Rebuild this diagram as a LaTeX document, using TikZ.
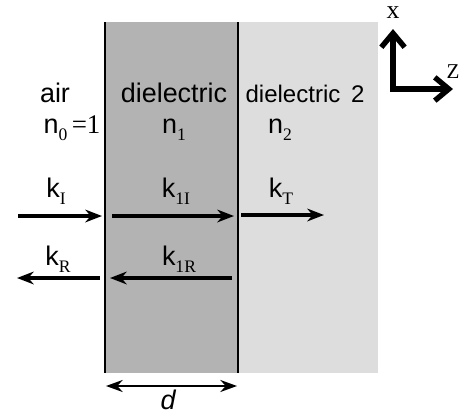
\documentclass[tikz,border=0pt]{standalone}
\usepackage{fontspec}
\setmainfont{Liberation Sans}
\newfontfamily\serifidx{Liberation Serif}
\usetikzlibrary{arrows.meta}
\definecolor{slabdark}{RGB}{179,179,179}
\definecolor{slablight}{RGB}{221,221,221}
\newcommand{\idx}[1]{\raisebox{-0.55ex}{\fontsize{15}{15}\selectfont\serifidx #1}}
\tikzset{
  >={Stealth[length=5mm,width=3.8mm,inset=1.6mm]},
  lbl/.style={font=\fontsize{23}{27}\selectfont,inner sep=0pt,anchor=base},
  axlbl/.style={font=\fontsize{#1}{#1}\selectfont\serifidx,inner sep=0pt},
  wave/.style={->,line width=2.8pt},
  axis/.style={{Straight Barb[length=4.2mm,width=7mm]}-{Straight Barb[length=4.2mm,width=7mm]},
    line width=4.6pt},
  gap/.style={{Stealth[length=5mm,width=3.6mm,inset=1.6mm]}-{Stealth[length=5mm,width=3.6mm,inset=1.6mm]},
    line width=1.8pt},
}
\begin{document}
\begin{tikzpicture}[x=0.03cm,y=-0.03cm]
  \useasboundingbox (0,0) rectangle (466,413);
  % the two slabs
  \fill[slabdark] (105,22) rectangle (238,373);
  \fill[slablight] (238,22) rectangle (378,373);
  \draw[line width=1.1pt] (105,22) -- (105,373) (238,22) -- (238,373);
  % media labels
  \node[lbl] (air) at (55,102) {air};
  \node[lbl] (diel1) at (174,102) {dielectric};
  \node[lbl,font=\fontsize{20.5}{24}\selectfont] (diel2) at (305,102) {dielectric\, 2};
  \node[lbl] (n0) at (72,133) {n\idx{0}\,{\serifidx =1}};
  \node[lbl] (n1) at (174,133) {n\idx{1}};
  \node[lbl] (n2) at (280,133) {n\idx{2}};
  % wave vectors
  \node[lbl] (kI) at (56,197) {k\idx{I}};
  \node[lbl] (k1I) at (176,197) {k\idx{1I}};
  \node[lbl] (kT) at (281,197) {k\idx{T}};
  \node[lbl] (kR) at (58,265) {k\idx{R}};
  \node[lbl] (k1R) at (179,265) {k\idx{1R}};
  \coordinate (kIa) at (18,216);  \coordinate (kIb) at (102,216);
  \coordinate (k1Ia) at (112,216); \coordinate (k1Ib) at (234,216);
  \coordinate (kTa) at (241,215); \coordinate (kTb) at (324,215);
  \coordinate (kRa) at (100,278); \coordinate (kRb) at (17,278);
  \coordinate (k1Ra) at (232,278); \coordinate (k1Rb) at (110,278);
  \draw[wave] (kIa) -- (kIb);
  \draw[wave] (k1Ia) -- (k1Ib);
  \draw[wave] (kTa) -- (kTb);
  \draw[wave] (kRa) -- (kRb);
  \draw[wave] (k1Ra) -- (k1Rb);
  % axes
  \coordinate (orig) at (393,89);
  \coordinate (xtip) at (393,29);
  \coordinate (ztip) at (453,89);
  \draw[axis] (xtip) -- (orig) -- (ztip);
  \node[axlbl=22] (xlab) at (393,13) {x};
  \node[axlbl=18] (zlab) at (453,72) {Z};
  % thickness
  \coordinate (dl) at (106,386);
  \coordinate (dr) at (237,386);
  \draw[gap] (dl) -- (dr);
  \node[lbl,font=\fontsize{23}{27}\selectfont\itshape] (dlab) at (168,409) {d};
\end{tikzpicture}
\end{document}
